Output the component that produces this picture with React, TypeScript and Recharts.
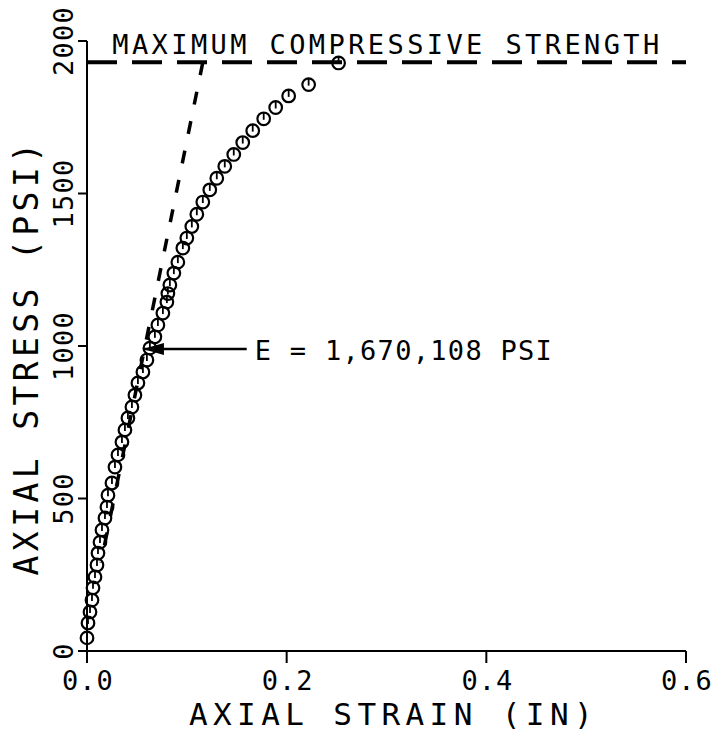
import React from 'react';
import {
  ComposedChart,
  Scatter,
  XAxis,
  YAxis,
  ReferenceLine,
  ReferenceDot,
  Label
} from 'recharts';

// readings taken off the plot
const strain = [
  0.0, 0.001, 0.003, 0.005, 0.006, 0.008, 0.01, 0.011, 0.013, 0.015, 0.018, 0.02,
  0.021, 0.025, 0.028, 0.031, 0.035, 0.038, 0.041, 0.045, 0.048, 0.051, 0.056, 0.06,
  0.063, 0.068, 0.071, 0.076, 0.08, 0.081, 0.083, 0.087, 0.091, 0.096, 0.1, 0.105,
  0.11, 0.116, 0.123, 0.13, 0.138, 0.147, 0.156, 0.166, 0.177, 0.189, 0.202, 0.222, 0.252
];
const stress = [
  43, 92, 128, 167, 207, 243, 282, 321, 357, 397, 436, 472,
  511, 551, 603, 643, 685, 725, 764, 800, 839, 879, 915, 954,
  993, 1030, 1069, 1108, 1144, 1172, 1200, 1239, 1275, 1321, 1354, 1392,
  1432, 1472, 1512, 1550, 1589, 1628, 1667, 1706, 1745, 1782, 1820, 1857, 1928
];

const xTicks = [0, 0.2, 0.4, 0.6];
const yTicks = [0, 500, 1000, 1500, 2000];

const maxStrength = 1930;
const tangentTop = { x: 0.116, y: 1930 };
const tangentBottom = { x: 0.014, y: 290 };
const arrowTip = { x: 0.056, y: 990 };
const arrowTail = { x: 0.16, y: 990 };
const titlePos = { x: 0.299, y: 1930 };

const titleText = 'MAXIMUM COMPRESSIVE STRENGTH';
const modulusText = 'E = 1,670,108 PSI';
const xTitle = 'AXIAL STRAIN (IN)';
const yTitle = 'AXIAL STRESS (PSI)';

const points = strain.map((x, i) => ({ x, y: stress[i] }));

const FONT = '"DejaVu Sans Mono", monospace';

const XTick = (props: any) => {
  const { x, y, payload } = props;
  return (
    <text x={x + 1} y={y + 27} textAnchor="middle" fontFamily={FONT} fontSize={27} letterSpacing={1} fill="#000">
      {payload.value.toFixed(1)}
    </text>
  );
};

const YTick = (props: any) => {
  const { x, y, payload } = props;
  return (
    <text
      transform={`translate(${x - 5},${y}) rotate(-90)`}
      textAnchor="middle"
      fontFamily={FONT}
      fontSize={27}
      letterSpacing={1.2}
      fill="#000"
    >
      {payload.value}
    </text>
  );
};

const XTitle = (props: any) => {
  const { x, y, width } = props.viewBox;
  return (
    <text x={x + width / 2 + 7} y={y + 74} textAnchor="middle" fontFamily={FONT} fontSize={31} letterSpacing={5.4} fill="#000">
      {xTitle}
    </text>
  );
};

const YTitle = (props: any) => {
  const { x, y, height } = props.viewBox;
  return (
    <text
      transform={`translate(${x + 38},${y + height / 2 + 11}) rotate(-90)`}
      textAnchor="middle"
      fontFamily={FONT}
      fontSize={33}
      letterSpacing={4.4}
      fill="#000"
    >
      {yTitle}
    </text>
  );
};

const Marker = (props: any) => {
  const { cx, cy } = props;
  return (
    <g>
      <circle cx={cx} cy={cy} r={6.3} fill="none" stroke="#000" strokeWidth={2.2} />
      <line x1={cx} y1={cy - 6.3} x2={cx} y2={cy + 1} stroke="#000" strokeWidth={1.8} />
    </g>
  );
};

const ArrowHead = (props: any) => {
  const { cx, cy } = props;
  return <path d={`M${cx},${cy} L${cx + 21},${cy - 6} L${cx + 21},${cy + 6} Z`} fill="#000" />;
};

const ModulusLabel = (props: any) => {
  const { cx, cy } = props;
  return (
    <text x={cx + 8} y={cy + 11} fontFamily={FONT} fontSize={27} letterSpacing={1.3} fill="#000">
      {modulusText}
    </text>
  );
};

const TitleLabel = (props: any) => {
  const { cx, cy } = props;
  return (
    <text x={cx + 2} y={cy - 8} textAnchor="middle" fontFamily={FONT} fontSize={27} letterSpacing={3.4} fill="#000">
      {titleText}
    </text>
  );
};

export default function App() {
  return (
    <div style={{ position: 'absolute', left: 0, top: 0, background: '#fff' }}>
      <ComposedChart width={716} height={732} margin={{ top: 41, right: 30, bottom: 0, left: 0 }}>
        <XAxis
          type="number"
          dataKey="x"
          domain={[0, 0.6]}
          ticks={xTicks}
          height={81}
          tickSize={12}
          tickMargin={0}
          axisLine={{ stroke: '#000', strokeWidth: 2 }}
          tickLine={{ stroke: '#000', strokeWidth: 2 }}
          tick={<XTick />}
        >
          <Label content={<XTitle />} />
        </XAxis>
        <YAxis
          type="number"
          dataKey="y"
          domain={[0, 2000]}
          ticks={yTicks}
          width={87}
          tickSize={9}
          tickMargin={0}
          axisLine={{ stroke: '#000', strokeWidth: 2 }}
          tickLine={{ stroke: '#000', strokeWidth: 2 }}
          tick={<YTick />}
        >
          <Label content={<YTitle />} />
        </YAxis>
        <ReferenceLine y={maxStrength} stroke="#000" strokeWidth={4} strokeDasharray="30 15" />
        <ReferenceLine
          segment={[tangentTop, tangentBottom]}
          stroke="#000"
          strokeWidth={3.5}
          strokeDasharray="13 17"
        />
        <ReferenceLine segment={[arrowTip, arrowTail]} stroke="#000" strokeWidth={2.5} />
        <Scatter data={points} shape={<Marker />} isAnimationActive={false} />
        <ReferenceDot x={arrowTip.x} y={arrowTip.y} r={1} shape={<ArrowHead />} />
        <ReferenceDot x={arrowTail.x} y={arrowTail.y} r={1} shape={<ModulusLabel />} />
        <ReferenceDot x={titlePos.x} y={titlePos.y} r={1} shape={<TitleLabel />} />
      </ComposedChart>
    </div>
  );
}
